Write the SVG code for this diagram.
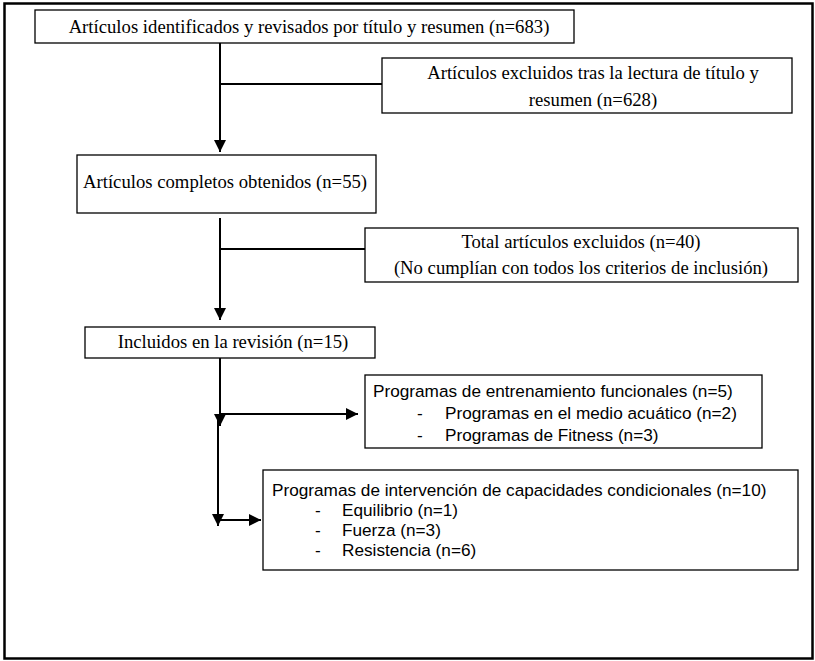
<svg xmlns="http://www.w3.org/2000/svg" width="815" height="661" viewBox="0 0 815 661">
<style>
.box{fill:#fff;stroke:#000;stroke-width:1.3}
.ln{fill:none;stroke:#000;stroke-width:2}
.tr{font-family:"Liberation Serif","Times New Roman",serif;font-size:18.7px;fill:#000}
.ts{font-family:"Liberation Sans",Arial,sans-serif;font-size:17.2px;fill:#000}
.m{text-anchor:middle}
</style>
<defs>
<marker id="ahb" viewBox="0 0 10 10" refX="10" refY="5" markerWidth="12" markerHeight="12" markerUnits="userSpaceOnUse" orient="auto">
<path d="M0,0 L10,5 L0,10 z" fill="#000"/>
</marker>
</defs>
<rect x="0" y="0" width="815" height="661" fill="#fff"/>
<rect x="4.5" y="3.5" width="808" height="655" fill="none" stroke="#000" stroke-width="2.5"/>

<g id="connectors">
<line class="ln" x1="220" y1="43" x2="220" y2="152" marker-end="url(#ahb)"/>
<line class="ln" x1="220" y1="84" x2="382" y2="84"/>
<line class="ln" x1="220" y1="218" x2="220" y2="320" marker-end="url(#ahb)"/>
<line class="ln" x1="220" y1="249" x2="365" y2="249"/>
<line class="ln" x1="220" y1="358" x2="220" y2="426" marker-end="url(#ahb)"/>
<line class="ln" x1="220" y1="414" x2="358" y2="414" marker-end="url(#ahb)"/>
<line class="ln" x1="218" y1="418" x2="218" y2="526" marker-end="url(#ahb)"/>
<line class="ln" x1="218" y1="520" x2="261" y2="520" marker-end="url(#ahb)"/>
</g>

<g id="n1">
<rect class="box" x="35" y="10" width="539" height="33"/>
<text class="tr m" x="309" y="33">Artículos identificados y revisados por título y resumen (n=683)</text>
</g>
<g id="n_excl1">
<rect class="box" x="382" y="58" width="410" height="55"/>
<text class="tr m" x="593" y="79">Artículos excluidos tras la lectura de título y</text>
<text class="tr m" x="593" y="106">resumen (n=628)</text>
</g>
<g id="n2">
<rect class="box" x="77" y="155" width="299" height="58"/>
<text class="tr" x="83" y="188">Artículos completos obtenidos (n=55)</text>
</g>
<g id="n_excl2">
<rect class="box" x="365" y="228" width="433" height="54"/>
<text class="tr m" x="581" y="248">Total artículos excluidos (n=40)</text>
<text class="tr m" x="581" y="274">(No cumplían con todos los criterios de inclusión)</text>
</g>
<g id="n3">
<rect class="box" x="85" y="327" width="290" height="31"/>
<text class="tr m" x="233" y="348">Incluidos en la revisión (n=15)</text>
</g>
<g id="n4">
<rect class="box" x="365" y="375" width="397" height="73"/>
<text class="ts"><tspan x="373" y="397">Programas de entrenamiento funcionales (n=5)</tspan><tspan x="417" y="419">-</tspan><tspan x="445" y="419">Programas en el medio acuático (n=2)</tspan><tspan x="417" y="441">-</tspan><tspan x="445" y="441">Programas de Fitness (n=3)</tspan></text>
</g>
<g id="n5">
<rect class="box" x="263" y="470" width="535" height="100"/>
<text class="ts"><tspan x="272" y="496">Programas de intervención de capacidades condicionales (n=10)</tspan><tspan x="315" y="516">-</tspan><tspan x="342" y="516">Equilibrio (n=1)</tspan><tspan x="315" y="536">-</tspan><tspan x="342" y="536">Fuerza (n=3)</tspan><tspan x="315" y="556">-</tspan><tspan x="342" y="556">Resistencia (n=6)</tspan></text>
</g>
</svg>
